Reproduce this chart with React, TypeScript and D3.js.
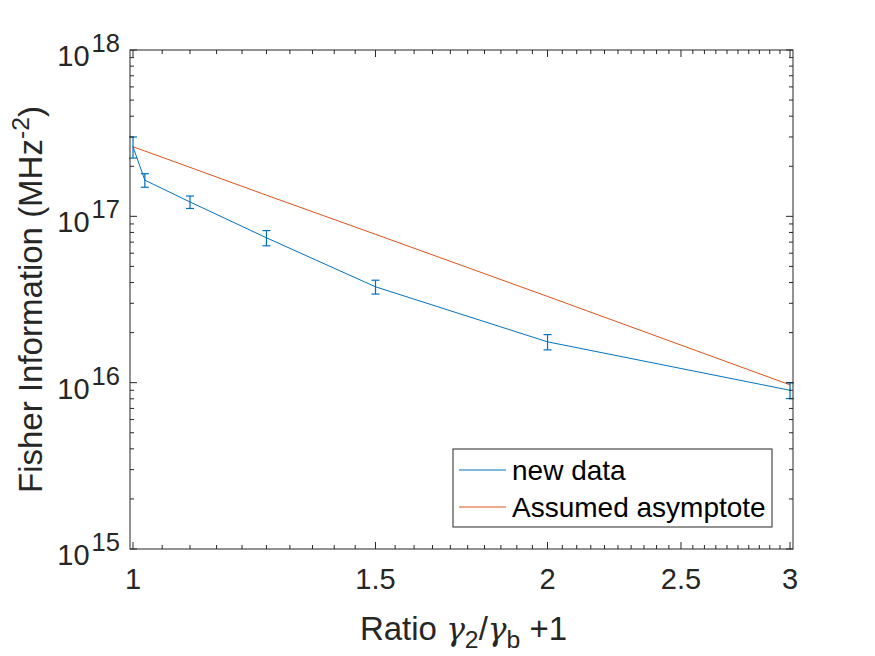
import React from "react";
import * as d3 from "d3";

const xValues = [1, 1.02, 1.1, 1.25, 1.5, 2, 3];
const newData = [2.62e17, 1.65e17, 1.22e17, 7.43e16, 3.77e16, 1.76e16, 9.0e15];
const newDataErr = [0.38e17, 0.155e17, 0.105e17, 0.78e16, 0.36e16, 0.185e16, 0.97e15];
const asymptote = [2.62e17, 2.47e17, 1.97e17, 1.34e17, 7.8e16, 3.3e16, 9.7e15];
const xMajorTicks = [1, 1.5, 2, 2.5, 3];
const xTickLabels = ["1", "1.5", "2", "2.5", "3"];
const yMajorExp = [15, 16, 17, 18];
const legendLabels = ["new data", "Assumed asymptote"];

const W = 875, H = 656;
const L = 130, R = 793, T = 50, B = 549;
const AX = "#262626";
const BLUE = "#0072BD";
const ORANGE = "#D95319";
const FONT = "'Liberation Sans', Arial, Helvetica, sans-serif";

export default function App() {
  const x = d3.scaleLog().domain([0.995, 3.015]).range([L, R]);
  const y = d3.scaleLog().domain([1e15, 1e18]).range([B, T]);

  const xMinor = d3.range(1, 3.0001, 0.05)
    .map((v) => Math.round(v * 100) / 100)
    .filter((v) => !xMajorTicks.some((m) => Math.abs(m - v) < 1e-6));
  const yMinor: number[] = [];
  for (let e = 15; e < 18; e++) for (let k = 2; k <= 9; k++) yMinor.push(k * Math.pow(10, e));

  const line = d3.line<number>().x((_, i) => x(xValues[i])).y((d) => y(d));

  const major = 7, minor = 4;
  const tickFs = 29;
  const labelFs = 33;
  const legFs = 28;

  return (
    <svg width={W} height={H} style={{ display: "block", position: "absolute", left: 0, top: 0, background: "#fff" }} fontFamily={FONT}>
      <rect x={0} y={0} width={W} height={H} fill="#fff" />
      {/* data */}
      <path d={line(asymptote) || ""} fill="none" stroke={ORANGE} strokeWidth={1} />
      <path d={line(newData) || ""} fill="none" stroke={BLUE} strokeWidth={1} />
      {newData.map((v, i) => {
        const cx = x(xValues[i]);
        const y1 = y(v + newDataErr[i]);
        const y2 = y(v - newDataErr[i]);
        return (
          <g key={i} stroke={BLUE} strokeWidth={1.2}>
            <line x1={cx} x2={cx} y1={y1} y2={y2} />
            <line x1={cx - 4} x2={cx + 4} y1={y1} y2={y1} />
            <line x1={cx - 4} x2={cx + 4} y1={y2} y2={y2} />
          </g>
        );
      })}
      {/* axes box */}
      <rect x={L} y={T} width={R - L} height={B - T} fill="none" stroke={AX} strokeWidth={1} />
      {/* x ticks */}
      {xMajorTicks.map((v) => (
        <g key={"xm" + v} stroke={AX}>
          <line x1={x(v)} x2={x(v)} y1={B} y2={B - major} />
          <line x1={x(v)} x2={x(v)} y1={T} y2={T + major} />
        </g>
      ))}
      {xMinor.map((v) => (
        <g key={"xn" + v} stroke={AX}>
          <line x1={x(v)} x2={x(v)} y1={B} y2={B - minor} />
          <line x1={x(v)} x2={x(v)} y1={T} y2={T + minor} />
        </g>
      ))}
      {xMajorTicks.map((v, i) => (
        <text key={"xl" + v} x={x(v)} y={589} textAnchor="middle" fontSize={tickFs} fill={AX}>
          {xTickLabels[i]}
        </text>
      ))}
      {/* y ticks */}
      {yMajorExp.map((e) => {
        const yy = y(Math.pow(10, e));
        return (
          <g key={"ym" + e} stroke={AX}>
            <line x1={L} x2={L + major} y1={yy} y2={yy} />
            <line x1={R} x2={R - major} y1={yy} y2={yy} />
          </g>
        );
      })}
      {yMinor.map((v) => (
        <g key={"yn" + v} stroke={AX}>
          <line x1={L} x2={L + minor} y1={y(v)} y2={y(v)} />
          <line x1={R} x2={R - minor} y1={y(v)} y2={y(v)} />
        </g>
      ))}
      {yMajorExp.map((e) => {
        const yy = y(Math.pow(10, e));
        return (
          <text key={"yl" + e} x={120} y={yy + 16} textAnchor="end" fontSize={tickFs} fill={AX}>
            10<tspan dy={-14} dx={2} fontSize={tickFs * 0.88}>{e}</tspan>
          </text>
        );
      })}
      {/* x label */}
      <text x={(L + R) / 2 + 2} y={640} textAnchor="middle" fontSize={labelFs} fill={AX}>
        Ratio <tspan fontFamily="'DejaVu Serif', serif" fontStyle="italic" fontSize={labelFs * 0.95}>γ</tspan>
        <tspan dy={8} fontSize={labelFs * 0.75}>2</tspan>
        <tspan dy={-8}>/</tspan>
        <tspan fontFamily="'DejaVu Serif', serif" fontStyle="italic" fontSize={labelFs * 0.95}>γ</tspan>
        <tspan dy={8} fontSize={labelFs * 0.75}>b</tspan>
        <tspan dy={-8}> +1</tspan>
      </text>
      {/* y label */}
      <text transform={`translate(42,${(T + B) / 2}) rotate(-90)`} textAnchor="middle" fontSize={labelFs} fill={AX}>
        Fisher Information (MHz<tspan dy={-13} fontSize={labelFs * 0.75}>-2</tspan>
        <tspan dy={13}>)</tspan>
      </text>
      {/* legend */}
      <rect x={453} y={449} width={319} height={78} fill="#fff" stroke={AX} strokeWidth={1} />
      {[BLUE, ORANGE].map((c, i) => {
        const ly = 470 + i * 37;
        return (
          <g key={"lg" + i}>
            <line x1={459} x2={506} y1={ly} y2={ly} stroke={c} strokeWidth={1} />
            <text x={512} y={ly + 10} fontSize={legFs} fill="#000">{legendLabels[i]}</text>
          </g>
        );
      })}
    </svg>
  );
}
